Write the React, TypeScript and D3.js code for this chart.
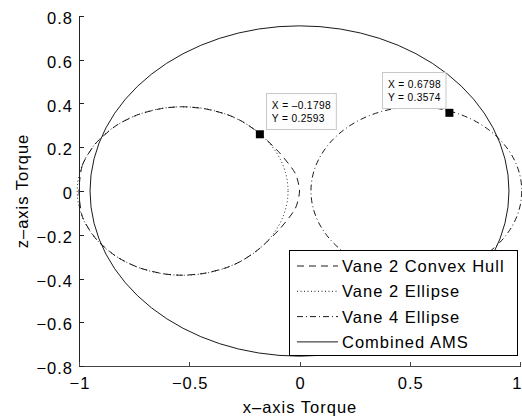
import * as d3 from 'd3'

// tick values
const xTicks = [-1, -0.5, 0, 0.5, 1]
const yTicks = [-0.8, -0.6, -0.4, -0.2, 0, 0.2, 0.4, 0.6, 0.8]

// ellipses: combined AMS, vane 2 ellipse, vane 4 ellipse
const ellipseNames = ['Combined AMS', 'Vane 2 Ellipse', 'Vane 4 Ellipse']
const ellipseCx = [0, -0.53, 0.53]
const ellipseCy = [0, 0, 0]
const ellipseRx = [0.95, 0.478, 0.478]
const ellipseRy = [0.755, 0.385, 0.385]

// vane 2 convex hull outline
const hullX = [-1.0, -0.984, -0.922, -0.83, -0.73, -0.62, -0.53, -0.43, -0.33, -0.26, -0.18, -0.09, -0.02, 0.0,
  -0.02, -0.09, -0.18, -0.26, -0.33, -0.43, -0.53, -0.62, -0.73, -0.83, -0.922, -0.984]
const hullY = [0, 0.12, 0.22, 0.30, 0.35, 0.378, 0.385, 0.376, 0.35, 0.318, 0.262, 0.174, 0.082, 0,
  -0.082, -0.174, -0.262, -0.318, -0.35, -0.376, -0.385, -0.378, -0.35, -0.30, -0.22, -0.12]

// data tips
const tipX = [-0.1798, 0.6798]
const tipY = [0.2593, 0.3574]

const legendLabels = ['Vane 2 Convex Hull', 'Vane 2 Ellipse', 'Vane 4 Ellipse', 'Combined AMS']

const W = 522
const H = 418
const font = 'Liberation Sans, Arial, Helvetica, sans-serif'
const fmt = (v: number) => (v < 0 ? '\u2212' : '') + String(Math.abs(v))

const dashed = '7,5'
const dotted = '1,2.5'
const dashDot = '6,3,1,3'

export default function App() {
  const x = d3.scaleLinear().domain([-1, 1]).range([79, 520])
  const y = d3.scaleLinear().domain([-0.8, 0.8]).range([366, 16])

  const hullPts: [number, number][] = hullX.map((v, i) => [x(v), y(hullY[i])])
  const hullPath = d3.line().curve(d3.curveCardinalClosed.tension(0.3))(hullPts) || ''

  const ell = (i: number, dash?: string) => (
    <ellipse
      key={ellipseNames[i]}
      cx={x(ellipseCx[i])}
      cy={y(ellipseCy[i])}
      rx={x(ellipseCx[i] + ellipseRx[i]) - x(ellipseCx[i])}
      ry={y(ellipseCy[i]) - y(ellipseCy[i] + ellipseRy[i])}
      fill="none"
      stroke="#000"
      strokeWidth={0.9}
      strokeDasharray={dash}
    />
  )

  const legendDash = [dashed, dotted, dashDot, undefined]
  const lgX = 289, lgY = 250, lgW = 228, lgH = 105

  return (
    <svg width={W} height={H} style={{ position: 'absolute', left: 0, top: 0, background: '#fff' }}
      fontFamily={font}>
      <rect width={W} height={H} fill="#fff" />

      {/* curves */}
      {ell(0)}
      <path d={hullPath} fill="none" stroke="#000" strokeWidth={0.9} strokeDasharray={dashed} />
      {ell(1, dotted)}
      {ell(2, dashDot)}

      {/* axes */}
      <line x1={79.5} x2={79.5} y1={16} y2={366.5} stroke="#222" />
      <line x1={79} x2={521} y1={366.5} y2={366.5} stroke="#444" />
      {yTicks.map(t => (
        <g key={'y' + t}>
          <line x1={79.5} x2={84} y1={Math.round(y(t)) + 0.5} y2={Math.round(y(t)) + 0.5} stroke="#222" />
          <text x={73} y={y(t) + 8} textAnchor="end" fontSize={16.5} letterSpacing={1}>{fmt(t)}</text>
        </g>
      ))}
      {xTicks.map((t, i) => {
        const last = i === xTicks.length - 1
        return (
          <g key={'x' + t}>
            <line x1={Math.round(x(t)) + 0.5} x2={Math.round(x(t)) + 0.5} y1={366} y2={362} stroke="#444" />
            <text x={last ? W - 0.5 : x(t) + 1} y={389} textAnchor={last ? 'end' : 'middle'}
              fontSize={16.5} letterSpacing={last ? 0 : 1}>{fmt(t)}</text>
          </g>
        )
      })}
      <text x={300} y={413} textAnchor="middle" fontSize={16.5} letterSpacing={1}>x–axis Torque</text>
      <text transform="translate(28,191) rotate(-90)" textAnchor="middle" fontSize={16.5} letterSpacing={1}>z–axis Torque</text>

      {/* data tips */}
      {tipX.map((v, i) => {
        const mx = x(v), my = y(tipY[i])
        const l1 = 'X = ' + (v < 0 ? '\u2013' : '') + Math.abs(v).toFixed(4)
        const l2 = 'Y = ' + tipY[i].toFixed(4)
        const bw = Math.max(l1.length, l2.length) * 6.35
        const bx = i === 0 ? mx + 6 : mx - 4 - bw
        const by = my - 41
        return (
          <g key={'tip' + i}>
            <rect x={mx - 4} y={my - 4} width={8} height={8} fill="#000" />
            <rect x={Math.round(bx) + 0.5} y={Math.round(by) + 0.5} width={bw} height={36}
              fill="#fdfdfd" stroke="#c8c8c8" />
            <text x={bx + 6} y={by + 16} fontSize={10.2} letterSpacing={0.35}>{l1}</text>
            <text x={bx + 6} y={by + 29} fontSize={10.2} letterSpacing={0.35}>{l2}</text>
          </g>
        )
      })}

      {/* legend */}
      <rect x={lgX + 0.5} y={lgY + 0.5} width={lgW} height={lgH} fill="#fff" stroke="#000" />
      {legendLabels.map((lab, i) => {
        const cy = 266 + i * 25.3
        return (
          <g key={lab}>
            <line x1={297} x2={338} y1={cy} y2={cy} stroke="#000" strokeWidth={0.9}
              strokeDasharray={legendDash[i]} />
            <text x={342} y={cy + 6} fontSize={16.5} letterSpacing={1}>{lab}</text>
          </g>
        )
      })}
    </svg>
  )
}
